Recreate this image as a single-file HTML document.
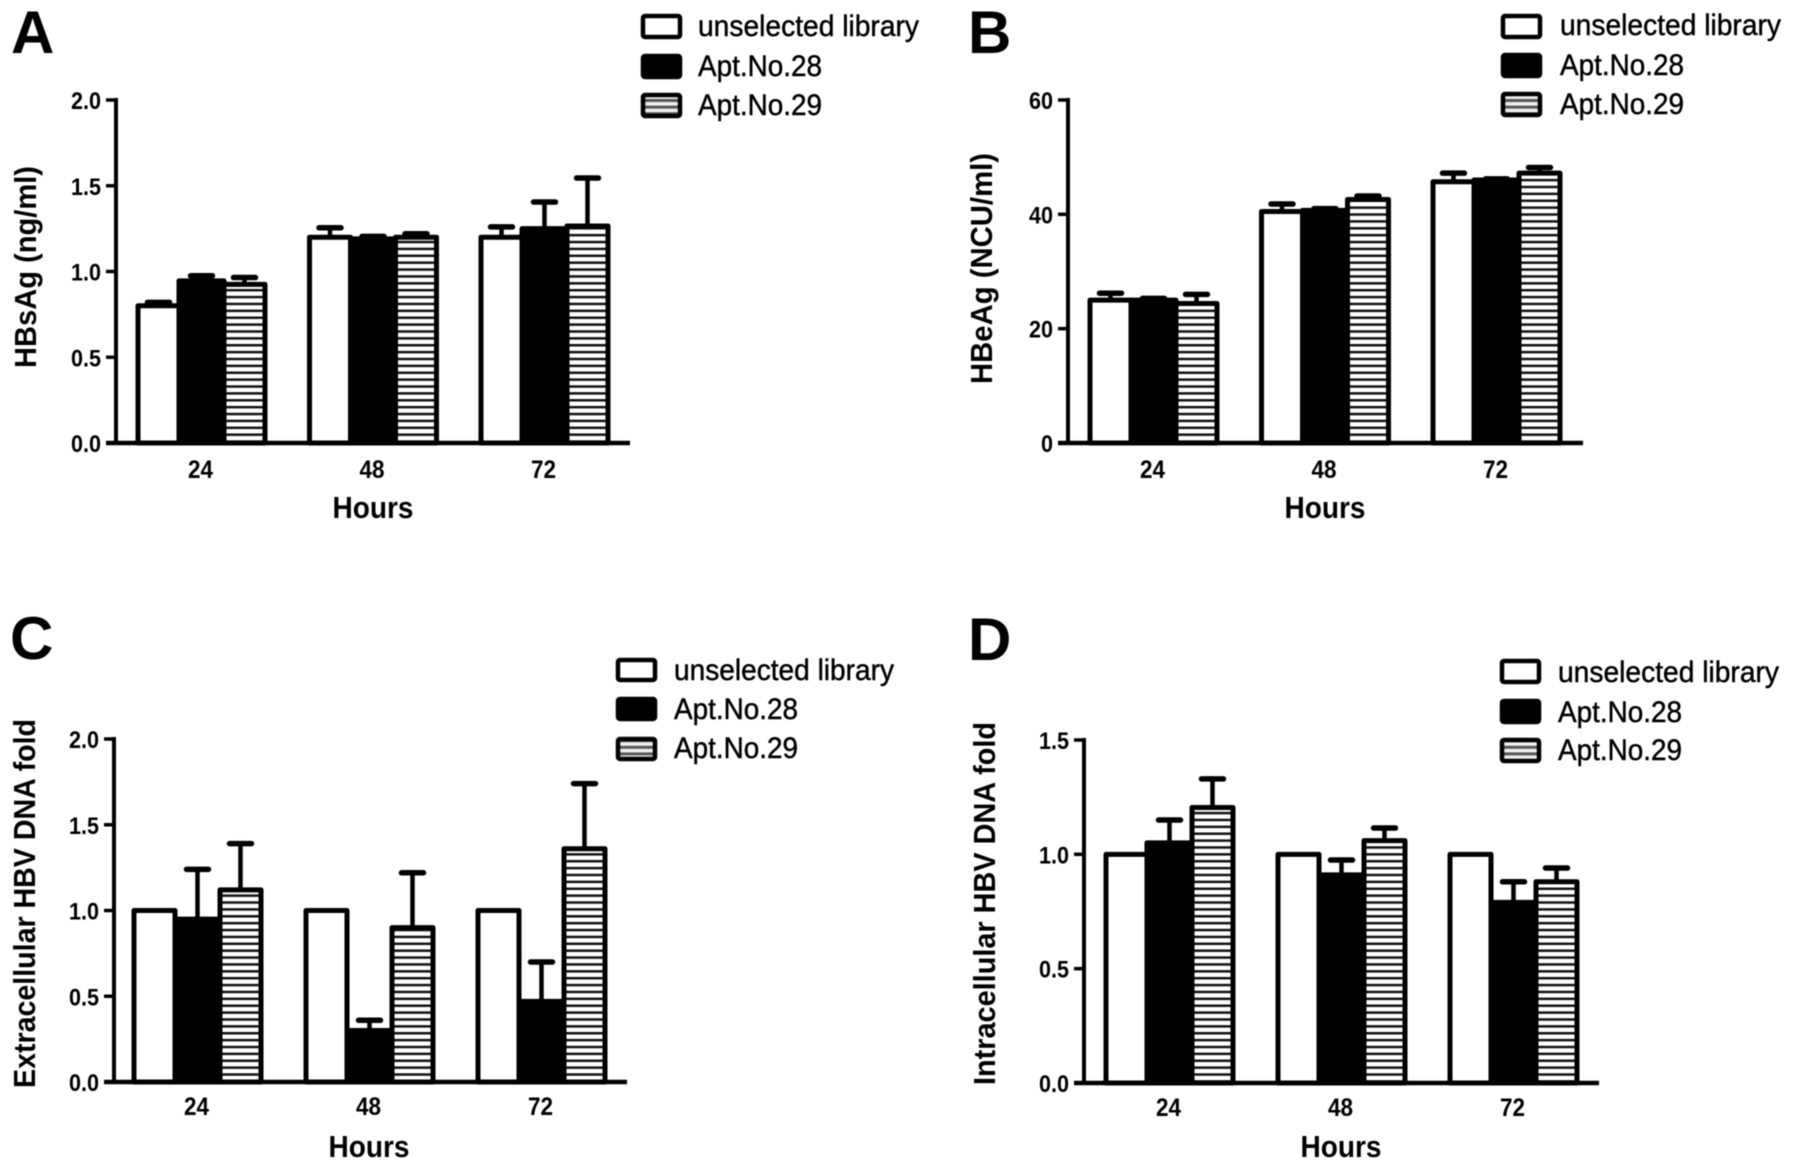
<!DOCTYPE html>
<html lang="en">
<head>
<meta charset="utf-8">
<title>HBV aptamer bar charts</title>
<style>
html,body{margin:0;padding:0;background:#fff;width:1795px;height:1170px;overflow:hidden}
svg{display:block;filter:blur(0.55px)}
text{font-family:"Liberation Sans",Arial,sans-serif;fill:#000}
.letter{font-size:60px;font-weight:700}
.legend-text{font-size:30px;stroke:#000;stroke-width:.45px}
.axis-title{font-size:31px;font-weight:700}
.swatch{stroke:#000;stroke-width:4.5px;stroke-linejoin:round}
</style>
</head>
<body>
<svg id="figure" xmlns="http://www.w3.org/2000/svg" width="1795" height="1170" viewBox="0 0 1795 1170">
  <defs>
    <pattern id="stripes" patternUnits="userSpaceOnUse" width="10" height="6.88">
      <rect width="10" height="6.88" fill="#fff"/>
      <rect width="10" height="2.5" fill="#111"/>
    </pattern>
    <pattern id="swatch-stripes" patternUnits="userSpaceOnUse" width="10" height="6.6">
      <rect width="10" height="6.6" fill="#eee"/>
      <rect width="10" height="3" fill="#555"/>
    </pattern>
  </defs>
  <rect width="1795" height="1170" fill="#fff"/>

  <g id="panel-a">
    <text class="letter" x="11" y="53">A</text>
    <text class="axis-title" transform="translate(36,368) rotate(-90)" textLength="202" lengthAdjust="spacingAndGlyphs">HBsAg (ng/ml)</text>
    <text class="axis-title" x="373" y="518" text-anchor="middle" textLength="81" lengthAdjust="spacingAndGlyphs">Hours</text>
    <g>
      <rect class="swatch" x="643" y="16" width="37" height="21" rx="2" fill="#fff"/>
      <text class="legend-text" x="698" y="36" textLength="221" lengthAdjust="spacingAndGlyphs">unselected library</text>
      <rect class="swatch" x="643" y="56" width="37" height="21" rx="2" fill="#000"/>
      <text class="legend-text" x="698" y="76" textLength="124" lengthAdjust="spacingAndGlyphs">Apt.No.28</text>
      <rect class="swatch" x="643" y="95" width="37" height="21" rx="2" fill="url(#swatch-stripes)"/>
      <text class="legend-text" x="698" y="115" textLength="124" lengthAdjust="spacingAndGlyphs">Apt.No.29</text>
    </g>
  </g>

  <g id="panel-b">
    <text class="letter" x="968" y="53">B</text>
    <text class="axis-title" transform="translate(992,384) rotate(-90)" textLength="231" lengthAdjust="spacingAndGlyphs">HBeAg (NCU/ml)</text>
    <text class="axis-title" x="1325" y="518" text-anchor="middle" textLength="81" lengthAdjust="spacingAndGlyphs">Hours</text>
    <g>
      <rect class="swatch" x="1503" y="16" width="37" height="21" rx="2" fill="#fff"/>
      <text class="legend-text" x="1560" y="35" textLength="221" lengthAdjust="spacingAndGlyphs">unselected library</text>
      <rect class="swatch" x="1503" y="55" width="37" height="21" rx="2" fill="#000"/>
      <text class="legend-text" x="1560" y="75" textLength="124" lengthAdjust="spacingAndGlyphs">Apt.No.28</text>
      <rect class="swatch" x="1503" y="94" width="37" height="21" rx="2" fill="url(#swatch-stripes)"/>
      <text class="legend-text" x="1560" y="114" textLength="124" lengthAdjust="spacingAndGlyphs">Apt.No.29</text>
    </g>
  </g>

  <g id="panel-c">
    <text class="letter" x="10" y="659">C</text>
    <text class="axis-title" transform="translate(35,1088) rotate(-90)" textLength="369" lengthAdjust="spacingAndGlyphs">Extracellular HBV DNA fold</text>
    <text class="axis-title" x="369" y="1157" text-anchor="middle" textLength="81" lengthAdjust="spacingAndGlyphs">Hours</text>
    <g>
      <rect class="swatch" x="618" y="660" width="37" height="20" rx="2" fill="#fff"/>
      <text class="legend-text" x="674" y="680" textLength="220" lengthAdjust="spacingAndGlyphs">unselected library</text>
      <rect class="swatch" x="618" y="699" width="37" height="20" rx="2" fill="#000"/>
      <text class="legend-text" x="674" y="719" textLength="124" lengthAdjust="spacingAndGlyphs">Apt.No.28</text>
      <rect class="swatch" x="618" y="739" width="37" height="20" rx="2" fill="url(#swatch-stripes)"/>
      <text class="legend-text" x="674" y="758" textLength="124" lengthAdjust="spacingAndGlyphs">Apt.No.29</text>
    </g>
  </g>

  <g id="panel-d">
    <text class="letter" x="968" y="660">D</text>
    <text class="axis-title" transform="translate(995,1085) rotate(-90)" textLength="363" lengthAdjust="spacingAndGlyphs">Intracellular HBV DNA fold</text>
    <text class="axis-title" x="1341" y="1157" text-anchor="middle" textLength="81" lengthAdjust="spacingAndGlyphs">Hours</text>
    <g>
      <rect class="swatch" x="1502" y="661" width="37" height="21" rx="2" fill="#fff"/>
      <text class="legend-text" x="1558" y="682" textLength="221" lengthAdjust="spacingAndGlyphs">unselected library</text>
      <rect class="swatch" x="1502" y="701" width="37" height="21" rx="2" fill="#000"/>
      <text class="legend-text" x="1558" y="722" textLength="124" lengthAdjust="spacingAndGlyphs">Apt.No.28</text>
      <rect class="swatch" x="1502" y="740" width="37" height="21" rx="2" fill="url(#swatch-stripes)"/>
      <text class="legend-text" x="1558" y="760" textLength="124" lengthAdjust="spacingAndGlyphs">Apt.No.29</text>
    </g>
  </g>
</svg>

<script>
// Shared categories
const categories = ['24', '48', '72'];

// Panel A: HBsAg (ng/ml)
const panelATicks = ['0.0', '0.5', '1.0', '1.5', '2.0'];
const panelAUnselected = [0.80, 1.20, 1.20];
const panelAApt28 = [0.945, 1.19, 1.25];
const panelAApt29 = [0.925, 1.20, 1.265];
const panelAUnselectedErr = [0.02, 0.055, 0.06];
const panelAApt28Err = [0.03, 0.015, 0.155];
const panelAApt29Err = [0.04, 0.02, 0.28];

// Panel B: HBeAg (NCU/ml)
const panelBTicks = ['0', '20', '40', '60'];
const panelBUnselected = [25.0, 40.5, 45.7];
const panelBApt28 = [25.0, 40.7, 46.0];
const panelBApt29 = [24.4, 42.6, 47.2];
const panelBUnselectedErr = [1.2, 1.3, 1.5];
const panelBApt28Err = [0.3, 0.3, 0.2];
const panelBApt29Err = [1.6, 0.6, 1.0];

// Panel C: Extracellular HBV DNA fold
const panelCTicks = ['0.0', '0.5', '1.0', '1.5', '2.0'];
const panelCUnselected = [1.0, 1.0, 1.0];
const panelCApt28 = [0.95, 0.30, 0.47];
const panelCApt29 = [1.12, 0.90, 1.36];
const panelCUnselectedErr = [0, 0, 0];
const panelCApt28Err = [0.29, 0.06, 0.23];
const panelCApt29Err = [0.27, 0.32, 0.38];

// Panel D: Intracellular HBV DNA fold
const panelDTicks = ['0.0', '0.5', '1.0', '1.5'];
const panelDUnselected = [1.0, 1.0, 1.0];
const panelDApt28 = [1.05, 0.91, 0.79];
const panelDApt29 = [1.205, 1.06, 0.88];
const panelDUnselectedErr = [0, 0, 0];
const panelDApt28Err = [0.10, 0.065, 0.09];
const panelDApt29Err = [0.125, 0.055, 0.06];

const NS = 'http://www.w3.org/2000/svg';

function make(tag, attrs) {
  const node = document.createElementNS(NS, tag);
  Object.keys(attrs).forEach(function (k) { node.setAttribute(k, attrs[k]); });
  return node;
}

function narrow(text) {
  // Reference glyphs are taller and narrower than the font's natural proportions.
  text.setAttribute('textLength', (text.getComputedTextLength() * 0.9).toFixed(1));
  text.setAttribute('lengthAdjust', 'spacingAndGlyphs');
}

function drawPanel(cfg) {
  const root = document.getElementById(cfg.id);
  const yMax = parseFloat(cfg.ticks[cfg.ticks.length - 1]);
  const yScale = function (v) { return cfg.base - (v / yMax) * (cfg.base - cfg.top); };
  const xCenter = function (i) { return cfg.firstCenter + i * cfg.spacing; };
  // series edges relative to a group centre
  const edges = [[-64, -23], [-23, 22], [22, 63]];
  const fills = ['#fff', '#000', 'url(#stripes)'];
  const seriesNames = ['unselected', 'apt28', 'apt29'];

  // error bars sit behind the bars
  cfg.series.forEach(function (values, s) {
    values.forEach(function (v, i) {
      const err = cfg.errors[s][i];
      if (err <= 0) return;
      const cx = xCenter(i) + (edges[s][0] + edges[s][1]) / 2;
      const yTop = yScale(v + err);
      const stem = make('line', { x1: cx, x2: cx, y1: yScale(v), y2: yTop, stroke: '#000', 'stroke-width': 4.5 });
      
      
      root.appendChild(stem);
      const cap = make('line', { x1: cx - 11, x2: cx + 11, y1: yTop, y2: yTop, stroke: '#000', 'stroke-width': 5.5, 'stroke-linecap': 'round' });
      
      
      root.appendChild(cap);
    });
  });

  // bars
  cfg.series.forEach(function (values, s) {
    values.forEach(function (v, i) {
      const x0 = xCenter(i) + edges[s][0];
      const x1 = xCenter(i) + edges[s][1];
      const yTop = yScale(v);
      const bar = make('rect', {
        x: x0, y: yTop, width: x1 - x0, height: cfg.base - yTop,
        fill: fills[s], stroke: '#000', 'stroke-width': 5, 'stroke-linejoin': 'round'
      });
      
      
      root.appendChild(bar);
    });
  });

  // y axis line
  const yAxis = make('line', { x1: cfg.axisX, x2: cfg.axisX, y1: cfg.top - 2, y2: cfg.base + 2, stroke: '#000', 'stroke-width': 4 });
  
  
  root.appendChild(yAxis);

  // x axis line
  const xAxis = make('line', { x1: cfg.axisX - 10, x2: cfg.axisEnd, y1: cfg.base, y2: cfg.base, stroke: '#000', 'stroke-width': 4.5 });
  
  
  root.appendChild(xAxis);

  // y ticks
  cfg.ticks.forEach(function (label) {
    const y = yScale(parseFloat(label));
    const tick = make('line', { x1: cfg.axisX - 10, x2: cfg.axisX, y1: y, y2: y, stroke: '#000', 'stroke-width': 3.5 });
    
    
    root.appendChild(tick);
    const text = make('text', { x: cfg.axisX - 15, y: y + 9, 'text-anchor': 'end', 'font-size': 24, 'font-weight': 700 });
    text.textContent = label;
    
    
    root.appendChild(text);
    narrow(text);
  });

  // category labels
  categories.forEach(function (label, i) {
    const text = make('text', { x: xCenter(i) + cfg.labelDx, y: cfg.labelY, 'text-anchor': 'middle', 'font-size': 25, 'font-weight': 700 });
    text.textContent = label;
    
    
    root.appendChild(text);
    narrow(text);
  });
}

drawPanel({
  id: 'panel-a', ticks: panelATicks,
  series: [panelAUnselected, panelAApt28, panelAApt29],
  errors: [panelAUnselectedErr, panelAApt28Err, panelAApt29Err],
  axisX: 116, axisEnd: 630, top: 100, base: 443, firstCenter: 202, spacing: 171.5, labelY: 478, labelDx: -1.5
});
drawPanel({
  id: 'panel-b', ticks: panelBTicks,
  series: [panelBUnselected, panelBApt28, panelBApt29],
  errors: [panelBUnselectedErr, panelBApt28Err, panelBApt29Err],
  axisX: 1068, axisEnd: 1583, top: 100, base: 443, firstCenter: 1154, spacing: 171.5, labelY: 478, labelDx: -1.5
});
drawPanel({
  id: 'panel-c', ticks: panelCTicks,
  series: [panelCUnselected, panelCApt28, panelCApt29],
  errors: [panelCUnselectedErr, panelCApt28Err, panelCApt29Err],
  axisX: 114, axisEnd: 627, top: 739, base: 1082, firstCenter: 198, spacing: 172, labelY: 1115, labelDx: -1.5
});
drawPanel({
  id: 'panel-d', ticks: panelDTicks,
  series: [panelDUnselected, panelDApt28, panelDApt29],
  errors: [panelDUnselectedErr, panelDApt28Err, panelDApt29Err],
  axisX: 1084, axisEnd: 1599, top: 740, base: 1083, firstCenter: 1170, spacing: 172, labelY: 1116, labelDx: -1.5
});
</script>
</body>
</html>
